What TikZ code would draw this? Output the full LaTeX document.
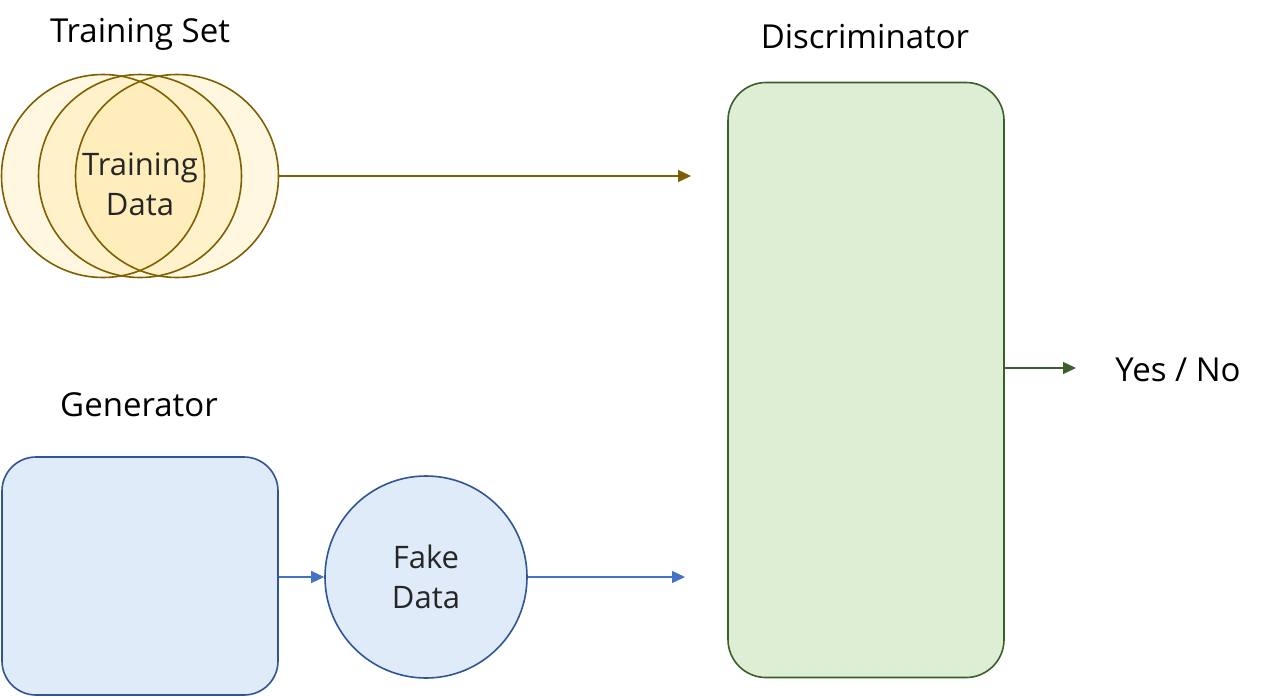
\documentclass[tikz,border=0pt]{standalone}
\usepackage{fontspec}
\setmainfont{Open Sans}
\usepackage{xcolor}
\usetikzlibrary{arrows.meta,positioning}
\definecolor{SetGold}{HTML}{7F6000}
\definecolor{SetFill}{HTML}{FFE599}
\definecolor{GenBlue}{HTML}{2F5597}
\definecolor{GenFill}{HTML}{DFEBF8}
\definecolor{GenArrow}{HTML}{4472C4}
\definecolor{DisGreen}{HTML}{3A5F2A}
\definecolor{DisFill}{HTML}{DEEED4}
\tikzset{
  setcircle/.style={circle, fill=SetFill, fill opacity=0.3,
                    minimum size=203pt, inner sep=0pt},
  setring/.style={draw=SetGold, line width=1.6pt},
  genbox/.style={draw=GenBlue, line width=1.6pt, fill=GenFill, rounded corners=34pt,
                 minimum width=276pt, minimum height=238pt},
  fakecircle/.style={circle, draw=GenBlue, line width=1.6pt, fill=GenFill,
                     minimum size=202pt, align=center, inner sep=0pt},
  disbox/.style={draw=DisGreen, line width=1.6pt, fill=DisFill, rounded corners=38pt,
                 minimum width=276pt, minimum height=595pt},
  title/.style={font=\fontsize{33}{38}\selectfont},
  inner/.style={font=\fontsize{31}{40}\selectfont, text=black!85, align=center},
  goldflow/.style={-{Triangle[length=13pt, width=12pt]}, line width=1.3pt, draw=SetGold},
  blueflow/.style={-{Triangle[length=13pt, width=12pt]}, line width=1.3pt, draw=GenArrow},
  greenflow/.style={-{Triangle[length=13pt, width=12pt]}, line width=1.3pt, draw=DisGreen}
}
\begin{document}
\begin{tikzpicture}[x=1pt, y=-1pt]
  \useasboundingbox (0,0) rectangle (1282,697);
  % training set
  \node[setcircle] (setA) at (103,176) {};
  \node[setcircle] (setB) at (140,176) {};
  \node[setcircle] (setC) at (177,176) {};
  \foreach \s in {setA,setB,setC}
    \draw[setring] (\s.center) circle (101.5pt);
  \node[inner] (train) at (140,184) {Training\\Data};
  \node[title] (settitle) at (140,34) {Training Set};
  % generator
  \node[genbox] (gen) at (140,576) {};
  \node[title] (gentitle) at (139,405) {Generator};
  \node[fakecircle, inner] (fake) at (426,577) {Fake\\Data};
  % discriminator
  \node[disbox] (dis) at (866,380) {};
  \node[title] (distitle) at (865,37) {Discriminator};
  \node[title] (out) at (1178,370) {Yes / No};
  \coordinate (realin) at (691,176);
  \coordinate (fakein) at (685,577);
  \coordinate (outend) at (1076,368);
  \draw[goldflow] (setC.east) -- (realin);
  \draw[blueflow] (gen.east |- fake.west) -- (fake.west);
  \draw[blueflow] (fake.east) -- (fakein);
  \draw[greenflow] (dis.east |- outend) -- (outend);
\end{tikzpicture}
\end{document}
